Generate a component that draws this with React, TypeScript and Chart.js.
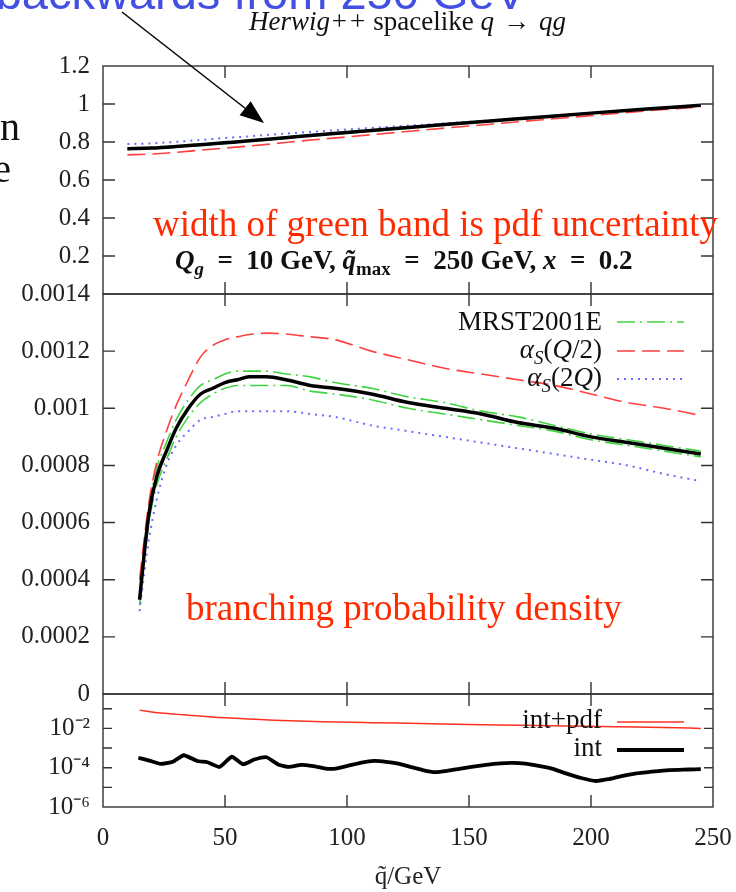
import React, { useEffect, useRef } from 'react';
import { Chart, registerables } from 'chart.js';
Chart.register(...registerables);

// ---------- top panel: ratio ----------
const RATIO_X = [10, 20, 30, 40, 50, 60, 70, 80, 100, 120, 140, 160, 180, 200, 220, 245];
const RATIO_CENTRAL = [0.765, 0.768, 0.776, 0.786, 0.796, 0.806, 0.817, 0.829, 0.850, 0.871, 0.892, 0.912, 0.932, 0.952, 0.971, 0.993];
const RATIO_PDF_UP = [0.769, 0.772, 0.780, 0.790, 0.800, 0.810, 0.821, 0.833, 0.854, 0.875, 0.895, 0.915, 0.935, 0.954, 0.973, 0.995];
const RATIO_PDF_DOWN = [0.761, 0.764, 0.772, 0.782, 0.792, 0.802, 0.813, 0.825, 0.846, 0.867, 0.889, 0.909, 0.929, 0.950, 0.969, 0.991];
const RATIO_HALF = [0.732, 0.737, 0.746, 0.757, 0.768, 0.779, 0.791, 0.804, 0.827, 0.850, 0.873, 0.895, 0.917, 0.939, 0.961, 0.985];
const RATIO_TWICE = [0.789, 0.793, 0.801, 0.811, 0.821, 0.830, 0.840, 0.849, 0.866, 0.882, 0.898, 0.915, 0.934, 0.953, 0.972, 0.995];

// ---------- middle panel: branching probability density ----------
const DENS_X = [15, 17, 19, 22, 26, 30, 35, 40, 45, 50, 55, 60, 67, 75, 85, 95, 110, 125, 140, 155, 170, 185, 200, 215, 230, 245];
const DENS_CENTRAL = [0.00033, 0.00050, 0.00064, 0.00076, 0.00085, 0.00093, 0.00100, 0.00105, 0.00107, 0.00109, 0.00110, 0.00111, 0.00111, 0.00110, 0.00108, 0.00107, 0.00105, 0.00102, 0.00100, 0.00098, 0.00095, 0.00093, 0.00090, 0.00088, 0.00086, 0.00084];
const DENS_PDF_UP = [0.00034, 0.00052, 0.00066, 0.00079, 0.00088, 0.00096, 0.00103, 0.00108, 0.00110, 0.00112, 0.00113, 0.00113, 0.00113, 0.00112, 0.00111, 0.00109, 0.00107, 0.00104, 0.00102, 0.00099, 0.00097, 0.00094, 0.00091, 0.00089, 0.00087, 0.00085];
const DENS_PDF_DOWN = [0.00031, 0.00048, 0.00061, 0.00073, 0.00082, 0.00090, 0.00097, 0.00102, 0.00105, 0.00107, 0.00108, 0.00108, 0.00108, 0.00108, 0.00106, 0.00105, 0.00103, 0.00100, 0.00098, 0.00096, 0.00094, 0.00092, 0.00089, 0.00087, 0.00085, 0.00083];
const DENS_HALF = [0.00040, 0.00055, 0.00068, 0.00081, 0.00092, 0.00101, 0.00110, 0.00118, 0.00122, 0.00124, 0.00125, 0.001258, 0.001263, 0.00126, 0.00125, 0.00124, 0.00120, 0.00117, 0.00114, 0.00112, 0.00110, 0.00108, 0.00105, 0.00102, 0.00100, 0.000975];
const DENS_TWICE = [0.00029, 0.00043, 0.00055, 0.00068, 0.00080, 0.00087, 0.00092, 0.00096, 0.00097, 0.00098, 0.00099, 0.00099, 0.00099, 0.00099, 0.00098, 0.00097, 0.00094, 0.00092, 0.00090, 0.00088, 0.00086, 0.00084, 0.00082, 0.00080, 0.00077, 0.000745];

// ---------- bottom panel: errors (log) ----------
const INTPDF_X = [15, 20, 25, 35, 50, 70, 90, 110, 130, 150, 170, 190, 210, 230, 245];
const INTPDF_ERR = [0.085, 0.069, 0.059, 0.047, 0.0347, 0.0263, 0.0219, 0.0195, 0.0178, 0.0158, 0.0145, 0.0132, 0.012, 0.011, 0.010];
const INT_X = [14.5, 19, 23.6, 28.6, 33.1, 38.6, 42.8, 47.8, 52.8, 57.5, 62, 67, 72, 76.2, 81.2, 86.2, 91.2, 95.4, 101, 106, 111, 116, 121, 126, 131, 136, 141, 146, 151, 157, 163, 168, 173, 178, 184, 190, 196, 202, 207, 212, 218, 225, 232, 240, 245];
const INT_ERR = [3.2e-4, 2.3e-4, 1.55e-4, 2.0e-4, 4.3e-4, 2.2e-4, 1.9e-4, 1.1e-4, 3.6e-4, 1.5e-4, 2.6e-4, 3.4e-4, 1.4e-4, 1.1e-4, 1.4e-4, 1.2e-4, 9e-5, 9e-5, 1.3e-4, 1.8e-4, 2.2e-4, 2.0e-4, 1.6e-4, 1.1e-4, 7.6e-5, 5.9e-5, 6.8e-5, 8.7e-5, 1.1e-4, 1.4e-4, 1.66e-4, 1.74e-4, 1.6e-4, 1.26e-4, 8.9e-5, 5e-5, 3e-5, 2.1e-5, 2.6e-5, 3.6e-5, 5e-5, 6.3e-5, 7.6e-5, 8.1e-5, 8.5e-5];

// ---------- axes ----------
const X_TICK_STEP = 50;
const TOP_TICK_STEP = 0.2;
const MID_TICK_STEP = 0.0002;
const LOG_TICKS = [1e-6, 1e-5, 1e-4, 1e-3, 1e-2, 1e-1];
const LOG_LABELLED = [-6, -4, -2];
const ARROW_AT = [66, 0.9];

const GREEN = '#3fd43f';
const RED = '#ff4040';
const BLUE = '#6a6aff';
const TEXT_RED = '#ff2a00';
const SERIF = '"Liberation Serif", "Times New Roman", serif';
const SANS = '"Liberation Sans", Arial, sans-serif';

const pts = (xs: number[], ys: number[]) => xs.map((x, i) => ({ x, y: ys[i] }));
const SUP: Record<string, string> = { '-': '⁻', '0': '⁰', '1': '¹', '2': '²', '3': '³', '4': '⁴', '5': '⁵', '6': '⁶', '7': '⁷', '8': '⁸', '9': '⁹' };

const framePlugin = {
  id: 'frameAndKeys',
  afterDatasetsDraw(chart: any) {
    const { ctx, chartArea: ca, scales } = chart;
    const x = scales.x;
    ctx.save();
    ctx.setLineDash([]);
    ctx.strokeStyle = '#333';
    ctx.lineWidth = 1.4;
    for (const id of ['yTop', 'yMid', 'yBot']) {
      const s = scales[id];
      ctx.strokeRect(ca.left, s.top, ca.right - ca.left, s.bottom - s.top);
      ctx.beginPath();
      for (const t of x.ticks) {
        if (t.value <= x.min || t.value >= x.max) continue;
        const px = x.getPixelForValue(t.value);
        ctx.moveTo(px, s.top); ctx.lineTo(px, s.top + 12);
        ctx.moveTo(px, s.bottom); ctx.lineTo(px, s.bottom - 12);
      }
      const len = id === 'yBot' ? 9 : 12;
      for (const t of s.ticks) {
        const py = s.getPixelForValue(t.value);
        if (py <= s.top + 0.5 || py >= s.bottom - 0.5) continue;
        ctx.moveTo(ca.left, py); ctx.lineTo(ca.left + len, py);
        ctx.moveTo(ca.right, py); ctx.lineTo(ca.right - len, py);
      }
      ctx.stroke();
    }
    // key samples
    const keys: [string, number][] = [
      ['MRST2001E upper', 322], ['αS(Q/2) density', 351], ['αS(2Q) density', 379],
      ['int+pdf', 722], ['int', 750],
    ];
    for (const [label, y] of keys) {
      const ds = chart.data.datasets.find((d: any) => d.label === label);
      if (!ds) continue;
      ctx.beginPath();
      ctx.strokeStyle = ds.borderColor;
      ctx.lineWidth = ds.borderWidth;
      ctx.setLineDash(ds.borderDash || []);
      ctx.moveTo(617, y); ctx.lineTo(684, y);
      ctx.stroke();
    }
    // arrow
    ctx.setLineDash([]);
    const tipX = x.getPixelForValue(ARROW_AT[0]);
    const tipY = scales.yTop.getPixelForValue(ARROW_AT[1]);
    const tailX = 122, tailY = 12;
    const a = Math.atan2(tipY - tailY, tipX - tailX);
    const hl = 24, hw = 9;
    const bx = tipX - hl * Math.cos(a), by = tipY - hl * Math.sin(a);
    ctx.strokeStyle = '#000';
    ctx.fillStyle = '#000';
    ctx.lineWidth = 1.5;
    ctx.beginPath();
    ctx.moveTo(tailX, tailY); ctx.lineTo(bx, by);
    ctx.stroke();
    ctx.beginPath();
    ctx.moveTo(tipX, tipY);
    ctx.lineTo(bx + hw * Math.sin(a), by - hw * Math.cos(a));
    ctx.lineTo(bx - hw * Math.sin(a), by + hw * Math.cos(a));
    ctx.closePath();
    ctx.fill();
    ctx.restore();
  },
};

const tickFont = { family: SERIF, size: 25 };

function buildConfig(): any {
  const line = (label: string, xs: number[], ys: number[], axis: string, color: string, width: number, dash: number[] = [], extra: any = {}) => ({
    label, data: pts(xs, ys), yAxisID: axis, borderColor: color, borderWidth: width, borderDash: dash,
    pointRadius: 0, fill: false, cubicInterpolationMode: 'monotone', ...extra,
  });
  return {
    type: 'line',
    data: {
      datasets: [
        line('ratio central', RATIO_X, RATIO_CENTRAL, 'yTop', '#000', 3.5),
        line('density central', DENS_X, DENS_CENTRAL, 'yMid', '#000', 3.5),
        line('int', INT_X, INT_ERR, 'yBot', '#000', 3.8, [], { cubicInterpolationMode: 'default', tension: 0.15 }),
        line('int+pdf', INTPDF_X, INTPDF_ERR, 'yBot', '#ff3020', 1.5),
        line('αS(2Q) density', DENS_X, DENS_TWICE, 'yMid', BLUE, 2, [2, 5]),
        line('αS(Q/2) density', DENS_X, DENS_HALF, 'yMid', RED, 1.6, [18, 7]),
        line('MRST2001E upper', DENS_X, DENS_PDF_UP, 'yMid', GREEN, 1.6, [18, 5, 2, 5]),
        line('MRST2001E lower', DENS_X, DENS_PDF_DOWN, 'yMid', GREEN, 1.6, [18, 5, 2, 5]),
        line('αS(2Q) ratio', RATIO_X, RATIO_TWICE, 'yTop', BLUE, 2, [2, 5]),
        line('αS(Q/2) ratio', RATIO_X, RATIO_HALF, 'yTop', RED, 1.6, [18, 7]),
        line('MRST2001E ratio upper', RATIO_X, RATIO_PDF_UP, 'yTop', GREEN, 1.4, [18, 5, 2, 5]),
        line('MRST2001E ratio lower', RATIO_X, RATIO_PDF_DOWN, 'yTop', GREEN, 1.4, [18, 5, 2, 5]),
      ],
    },
    options: {
      animation: false,
      responsive: false,
      maintainAspectRatio: false,
      layout: { padding: { left: 0, right: 23, top: 66, bottom: 0 } },
      plugins: { legend: { display: false }, tooltip: { enabled: false }, title: { display: false } },
      scales: {
        x: {
          type: 'linear', position: 'bottom', min: 0, max: 250,
          grid: { display: false, drawTicks: false }, border: { display: false },
          ticks: { stepSize: X_TICK_STEP, font: tickFont, color: '#222', padding: 16, maxRotation: 0, autoSkip: false },
          title: { display: true, text: 'q̃/GeV', font: { family: SERIF, size: 25 }, color: '#222', padding: { top: 0, bottom: 0 } },
          afterFit: (s: any) => { s.height = 85; s.paddingLeft = 0; s.paddingRight = 0; },
        },
        yBot: {
          type: 'logarithmic', position: 'left', stack: 'panels', stackWeight: 113, weight: 1,
          min: 1e-6, max: Math.pow(10, -0.25),
          grid: { display: false, drawTicks: false }, border: { display: false },
          afterBuildTicks: (s: any) => { s.ticks = LOG_TICKS.map((v) => ({ value: v })); },
          ticks: {
            font: tickFont, color: '#222', padding: 13, autoSkip: false,
            callback: (v: number) => {
              const e = Math.round(Math.log10(v));
              return LOG_LABELLED.includes(e) ? '10' + String(e).split('').map((c) => SUP[c]).join('') : '';
            },
          },
          afterFit: (s: any) => { s.width = 103; s.paddingTop = 0; s.paddingBottom = 0; },
        },
        yMid: {
          type: 'linear', position: 'left', stack: 'panels', stackWeight: 400, weight: 2,
          min: 0, max: 0.0014,
          grid: { display: false, drawTicks: false }, border: { display: false },
          ticks: {
            stepSize: MID_TICK_STEP, font: tickFont, color: '#222', padding: 13, autoSkip: false,
            callback: (v: number) => (Math.abs(v) < 1e-12 ? '0' : String(parseFloat(v.toFixed(4)))),
          },
          afterFit: (s: any) => { s.width = 103; s.paddingTop = 0; s.paddingBottom = 0; },
        },
        yTop: {
          type: 'linear', position: 'left', stack: 'panels', stackWeight: 228, weight: 3,
          min: 0, max: 1.2,
          grid: { display: false, drawTicks: false }, border: { display: false },
          ticks: {
            stepSize: TOP_TICK_STEP, font: tickFont, color: '#222', padding: 13, autoSkip: false,
            callback: (v: number) => (Math.abs(v) < 1e-9 ? '' : String(parseFloat(v.toFixed(1)))),
          },
          afterFit: (s: any) => { s.width = 103; s.paddingTop = 0; s.paddingBottom = 0; },
        },
      },
    },
    plugins: [framePlugin],
  };
}

const Sub = ({ children }: { children: any }) => (
  <span style={{ fontSize: '0.7em', verticalAlign: '-0.3em', lineHeight: 0 }}>{children}</span>
);

type TProps = { left?: number; right?: number; baseline: number; size: number; color?: string; family?: string; weight?: any; children: any };
const T = ({ left, right, baseline, size, color = '#111', family = SERIF, weight = 'normal', children }: TProps) => {
  const k = family === SANS ? 0.8465 : 0.8375;
  const style: any = {
    position: 'absolute', top: baseline - k * size, fontSize: size, lineHeight: size + 'px',
    fontFamily: family, color, whiteSpace: 'nowrap', fontWeight: weight, zIndex: 2,
  };
  if (left !== undefined) style.left = left;
  if (right !== undefined) { style.right = right; style.textAlign = 'right'; }
  return <div style={style}>{children}</div>;
};

const E = '\u2002';
const M = '\u2004';

export default function App() {
  const ref = useRef<HTMLCanvasElement>(null);
  useEffect(() => {
    const chart = new Chart(ref.current as HTMLCanvasElement, buildConfig());
    return () => chart.destroy();
  }, []);
  const W = 736;
  return (
    <div style={{ position: 'absolute', left: 0, top: 0, width: W, height: 892, overflow: 'hidden', background: '#fff' }}>
      <canvas ref={ref} width={736} height={892} style={{ position: 'absolute', left: 0, top: 0, width: 736, height: 892, display: 'block' }} />
      <T right={W - 526} baseline={9} size={47} family={SANS} color="#4150e2">backwards from 250 GeV</T>
      <T left={249} baseline={31} size={27}><i>Herwig++</i> spacelike <i>q</i>{M}→{M}<i>qg</i></T>
      <T right={W - 20} baseline={140} size={40}>n</T>
      <T right={W - 11} baseline={182} size={40}>e</T>
      <T left={153} baseline={236} size={37} color={TEXT_RED}>width of green band is pdf uncertainty</T>
      <T left={175} baseline={270} size={27} weight="bold"><i>Q</i><Sub><i>g</i></Sub>{E}={E}10 GeV, <i>q̃</i><Sub>max</Sub>{E}={E}250 GeV, <i>x</i>{E}={E}0.2</T>
      <T right={W - 602} baseline={331} size={27}>MRST2001E</T>
      <T right={W - 602} baseline={359} size={27}><i>α</i><Sub><i>S</i></Sub>(<i>Q</i>/2)</T>
      <T right={W - 602} baseline={387} size={27}><i>α</i><Sub><i>S</i></Sub>(2<i>Q</i>)</T>
      <T left={186} baseline={620} size={37} color={TEXT_RED}>branching probability density</T>
      <T right={W - 602} baseline={729} size={27}>int+pdf</T>
      <T right={W - 602} baseline={757} size={27}>int</T>
    </div>
  );
}
